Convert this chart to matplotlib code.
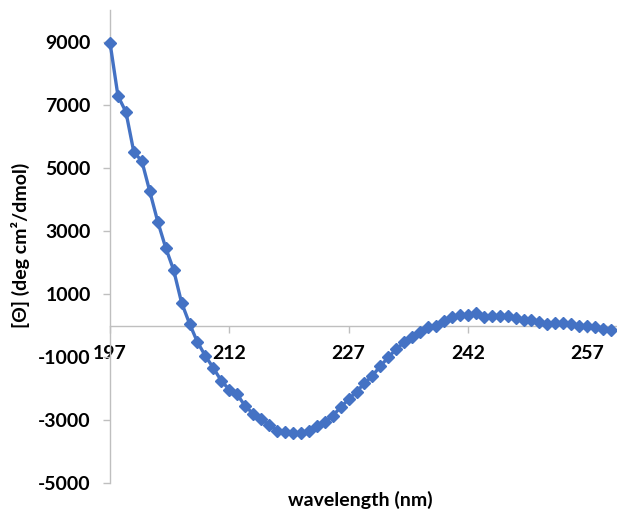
import matplotlib
matplotlib.use("Agg")
import matplotlib.pyplot as plt
import numpy as np

plt.rcParams["axes.unicode_minus"] = False

wavelength = list(range(197, 261))
theta = [8980, 7290, 6780, 5500, 5225, 4260, 3300, 2470, 1762, 724, 60,
         -530, -968, -1350, -1757, -2036, -2190, -2560, -2800, -2968, -3159,
         -3340, -3390, -3422, -3422, -3340, -3190, -3054, -2863, -2600,
         -2343, -2100, -1835, -1594, -1286, -1010, -746, -533, -375, -197,
         -40, 0, 130, 270, 322, 333, 396, 280, 290, 290, 305, 233, 160,
         160, 112, 60, 95, 80, 32, 0, -11, -54, -100, -154]
xticks = [197, 212, 227, 242, 257]
yticks = [-5000, -3000, -1000, 1000, 3000, 5000, 7000, 9000]

W, H = 617, 511
fig = plt.figure(figsize=(W / 100, H / 100), dpi=100)
ax = fig.add_axes([110 / W, (H - 483) / H, (611 - 110) / W, (483 - 10.5) / H])

ax.plot(wavelength, theta, color="#4472C4", lw=2.4, marker="D", ms=6.3,
        mfc="#4472C4", mec="#4472C4", clip_on=False, zorder=3)

ax.set_xlim(197, 260)
ax.set_ylim(-5000, 10000)
ax.set_xticks(xticks)
ax.set_yticks(yticks)

font = "Lato"
fs = 14
for s in ["top", "right"]:
    ax.spines[s].set_visible(False)
ax.spines["bottom"].set_position(("data", 0))
ax.spines["bottom"].set_bounds(197, 261)
for s in ["left", "bottom"]:
    ax.spines[s].set_color("#BFBFBF")
    ax.spines[s].set_linewidth(1.0)

ax.tick_params(axis="both", direction="out", length=4.8, width=1.0,
               color="#BFBFBF", labelsize=fs)
ax.tick_params(axis="y", pad=9)
ax.tick_params(axis="x", pad=9)
for lab in ax.get_xticklabels() + ax.get_yticklabels():
    lab.set_fontfamily(font)
    lab.set_fontweight("bold")

fig.text(360 / W, 1 - 500 / H, "wavelength (nm)", ha="center", va="center",
         fontsize=fs, fontweight="bold", family=font)
fig.text(20 / W, 1 - 245 / H, "[Θ] (deg cm²/dmol)", ha="center", va="center",
         rotation=90, fontsize=fs, fontweight="bold", family=[font, "DejaVu Sans"])

fig.savefig("out.png", dpi=100)
